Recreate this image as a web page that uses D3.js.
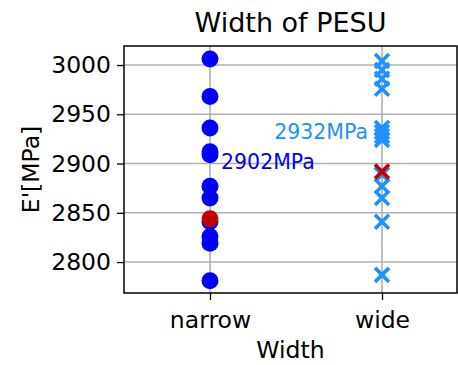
<!DOCTYPE html>
<html>
<head>
<meta charset="utf-8">
<script src="https://cdn.jsdelivr.net/npm/d3@7"></script>
<style>
  html, body { margin: 0; padding: 0; background: #fff; }
  svg { display: block; font-family: "DejaVu Sans", sans-serif; }
</style>
</head>
<body>
<svg id="chart" width="458" height="365"></svg>
<script>
// Categories and measured storage modulus values (MPa)
const categories = ["narrow", "wide"];
const narrowValues = [3006, 2968, 2936, 2912, 2909, 2877, 2865, 2841, 2826, 2819, 2781];
const wideValues = [3004, 2995, 2986, 2976, 2936, 2932, 2928, 2924, 2889, 2877, 2865, 2841, 2787];
// Highlighted sample per group
const highlightValues = [2844, 2892];
// Annotated values per group
const labelValues = [2902, 2932];
const yTicks = [2800, 2850, 2900, 2950, 3000];

const colors = { narrow: "#0000ff", wide: "#1e90ff", highlight: "#c00000", grid: "#b0b0b0" };

const margin = { left: 124, right: 1, top: 46, bottom: 72 };
const W = 458, H = 365;
const svg = d3.select("#chart");

const x = d3.scaleLinear().domain([-0.5, 1.436]).range([margin.left, W - margin.right]);
const y = d3.scaleLinear().domain([2768.6, 3019.3]).range([H - margin.bottom, margin.top]);

// Grid lines
const grid = svg.append("g");
grid.selectAll("line.h").data(yTicks).join("line")
  .attr("x1", margin.left).attr("x2", W - margin.right)
  .attr("y1", d => y(d)).attr("y2", d => y(d))
  .attr("stroke", colors.grid).attr("stroke-width", 1.6);
grid.selectAll("line.v").data(categories).join("line")
  .attr("x1", (d, i) => x(i)).attr("x2", (d, i) => x(i))
  .attr("y1", margin.top).attr("y2", H - margin.bottom)
  .attr("stroke", colors.grid).attr("stroke-width", 1.6);

// Narrow group: filled circles
svg.append("g").selectAll("circle").data(narrowValues).join("circle")
  .attr("cx", x(0)).attr("cy", d => y(d)).attr("r", 8.5)
  .attr("fill", colors.narrow);
svg.append("circle").attr("cx", x(0)).attr("cy", y(highlightValues[0])).attr("r", 8.5)
  .attr("fill", colors.highlight);

// Wide group: x markers
const xs = 7;
function cross(g, cx, cy, color) {
  g.append("path")
    .attr("d", `M${cx - xs},${cy - xs}L${cx + xs},${cy + xs}M${cx - xs},${cy + xs}L${cx + xs},${cy - xs}`)
    .attr("stroke", color).attr("stroke-width", 3.6).attr("fill", "none");
}
const wideG = svg.append("g");
wideValues.forEach(v => cross(wideG, x(1), y(v), colors.wide));
cross(svg.append("g"), x(1), y(highlightValues[1]), colors.highlight);

// Value annotations
svg.append("text").attr("x", x(0) + 11).attr("y", y(labelValues[0]))
  .attr("dy", "0.35em").attr("font-size", 20.5).attr("fill", colors.narrow)
  .text(labelValues[0] + "MPa");
svg.append("text").attr("x", x(1) - 14).attr("y", y(labelValues[1]))
  .attr("dy", "0.35em").attr("text-anchor", "end").attr("font-size", 20.5).attr("fill", colors.wide)
  .text(labelValues[1] + "MPa");

// Axes
const yAxis = d3.axisLeft(y).tickValues(yTicks).tickFormat(d3.format("d")).tickSize(7).tickPadding(6);
const gy = svg.append("g").attr("transform", `translate(${margin.left},0)`).call(yAxis);
gy.select(".domain").remove();
gy.selectAll("text").attr("font-size", 23.5).attr("fill", "#000").attr("font-family", "DejaVu Sans");
gy.selectAll("line").attr("stroke", "#000").attr("stroke-width", 1.3);

const xAxis = d3.axisBottom(x).tickValues([0, 1]).tickFormat(i => categories[i]).tickSize(7).tickPadding(11);
const gx = svg.append("g").attr("transform", `translate(0,${H - margin.bottom})`).call(xAxis);
gx.select(".domain").remove();
gx.selectAll("text").attr("font-size", 23.5).attr("fill", "#000").attr("font-family", "DejaVu Sans");
gx.selectAll("line").attr("stroke", "#000").attr("stroke-width", 1.3);

// Frame
svg.append("rect").attr("x", margin.left).attr("y", margin.top)
  .attr("width", W - margin.right - margin.left).attr("height", H - margin.bottom - margin.top)
  .attr("fill", "none").attr("stroke", "#000").attr("stroke-width", 1.5);

// Titles
svg.append("text").attr("x", (margin.left + W - margin.right) / 2).attr("y", 32)
  .attr("text-anchor", "middle").attr("font-size", 27).text("Width of PESU");
svg.append("text").attr("x", (margin.left + W - margin.right) / 2).attr("y", 358)
  .attr("text-anchor", "middle").attr("font-size", 23.5).text("Width");
svg.append("text").attr("transform", `translate(39,${(margin.top + H - margin.bottom) / 2}) rotate(-90)`)
  .attr("text-anchor", "middle").attr("font-size", 23.5).text("E'[MPa]");
</script>
</body>
</html>
